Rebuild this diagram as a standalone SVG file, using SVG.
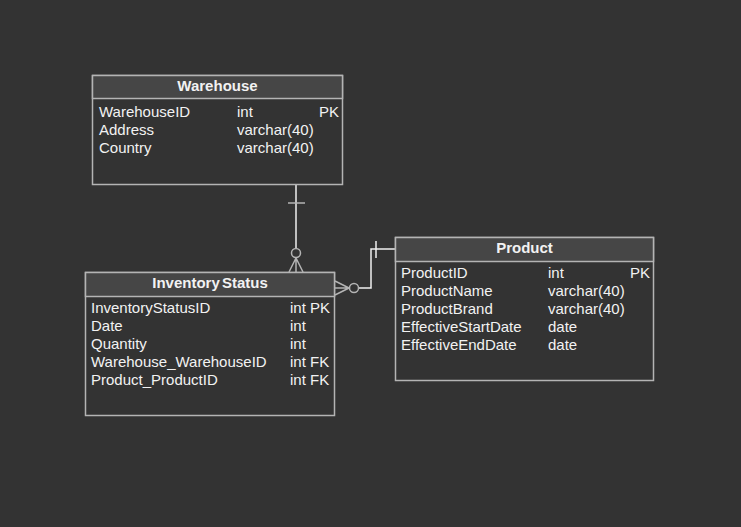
<svg xmlns="http://www.w3.org/2000/svg" width="741" height="527" viewBox="0 0 741 527">
<style>
.box{fill:#333333;stroke:#b4b4b4;stroke-width:1.5}
.hdr{fill:#464646;stroke:#b4b4b4;stroke-width:1.5}
.t{font-family:"Liberation Sans",Arial,sans-serif;font-size:15px;fill:#f2f2f2}
.h{font-family:"Liberation Sans",Arial,sans-serif;font-size:15px;font-weight:bold;fill:#f2f2f2;text-anchor:middle}
.c{fill:none;stroke:#f0f0f0;stroke-width:1.5}
.cg{fill:none;stroke:#b4b4b4;stroke-width:1.5}
</style>
<rect width="741" height="527" fill="#333333"/>
<g id="connectors">
<line class="c" x1="296" y1="184" x2="296" y2="248"/>
<line class="cg" x1="288" y1="203" x2="305" y2="203"/>
<circle class="cg" cx="296" cy="253" r="4.5"/>
<path class="cg" d="M296,257.5 V272 M296,258 L289,272 M296,258 L303,272"/>
<path class="c" d="M358.5,288 H371 V249 H395"/>
<line class="c" x1="376" y1="241" x2="376" y2="258"/>
<circle class="cg" cx="354" cy="288" r="4.5"/>
<path class="cg" d="M335,288 H349.5 M335,281 L349,288 M335,295 L349,288"/>
</g>
<g id="warehouse">
<rect class="box" x="92.5" y="75.5" width="250" height="109"/>
<rect class="hdr" x="92.5" y="75.5" width="250" height="23"/>
<text class="h" x="217.5" y="91">Warehouse</text>
<text class="t" x="99" y="117">WarehouseID</text>
<text class="t" x="237" y="117">int</text>
<text class="t" x="339" y="117" text-anchor="end">PK</text>
<text class="t" x="99" y="135">Address</text>
<text class="t" x="237" y="135">varchar(40)</text>
<text class="t" x="99" y="153">Country</text>
<text class="t" x="237" y="153">varchar(40)</text>
</g>
<g id="inventorystatus">
<rect class="box" x="85.5" y="272.5" width="249" height="143"/>
<rect class="hdr" x="85.5" y="272.5" width="249" height="24"/>
<text class="h" x="210" y="288" word-spacing="-2">Inventory Status</text>
<text class="t" x="91" y="313">InventoryStatusID</text>
<text class="t" x="290" y="313">int PK</text>
<text class="t" x="91" y="331">Date</text>
<text class="t" x="290" y="331">int</text>
<text class="t" x="91" y="349">Quantity</text>
<text class="t" x="290" y="349">int</text>
<text class="t" x="91" y="367">Warehouse_WarehouseID</text>
<text class="t" x="290" y="367">int FK</text>
<text class="t" x="91" y="385">Product_ProductID</text>
<text class="t" x="290" y="385">int FK</text>
</g>
<g id="product">
<rect class="box" x="395.5" y="237.5" width="258" height="143"/>
<rect class="hdr" x="395.5" y="237.5" width="258" height="24"/>
<text class="h" x="524.5" y="253">Product</text>
<text class="t" x="401" y="278">ProductID</text>
<text class="t" x="548" y="278">int</text>
<text class="t" x="650" y="278" text-anchor="end">PK</text>
<text class="t" x="401" y="296">ProductName</text>
<text class="t" x="548" y="296">varchar(40)</text>
<text class="t" x="401" y="314">ProductBrand</text>
<text class="t" x="548" y="314">varchar(40)</text>
<text class="t" x="401" y="332">EffectiveStartDate</text>
<text class="t" x="548" y="332">date</text>
<text class="t" x="401" y="350">EffectiveEndDate</text>
<text class="t" x="548" y="350">date</text>
</g>
</svg>
